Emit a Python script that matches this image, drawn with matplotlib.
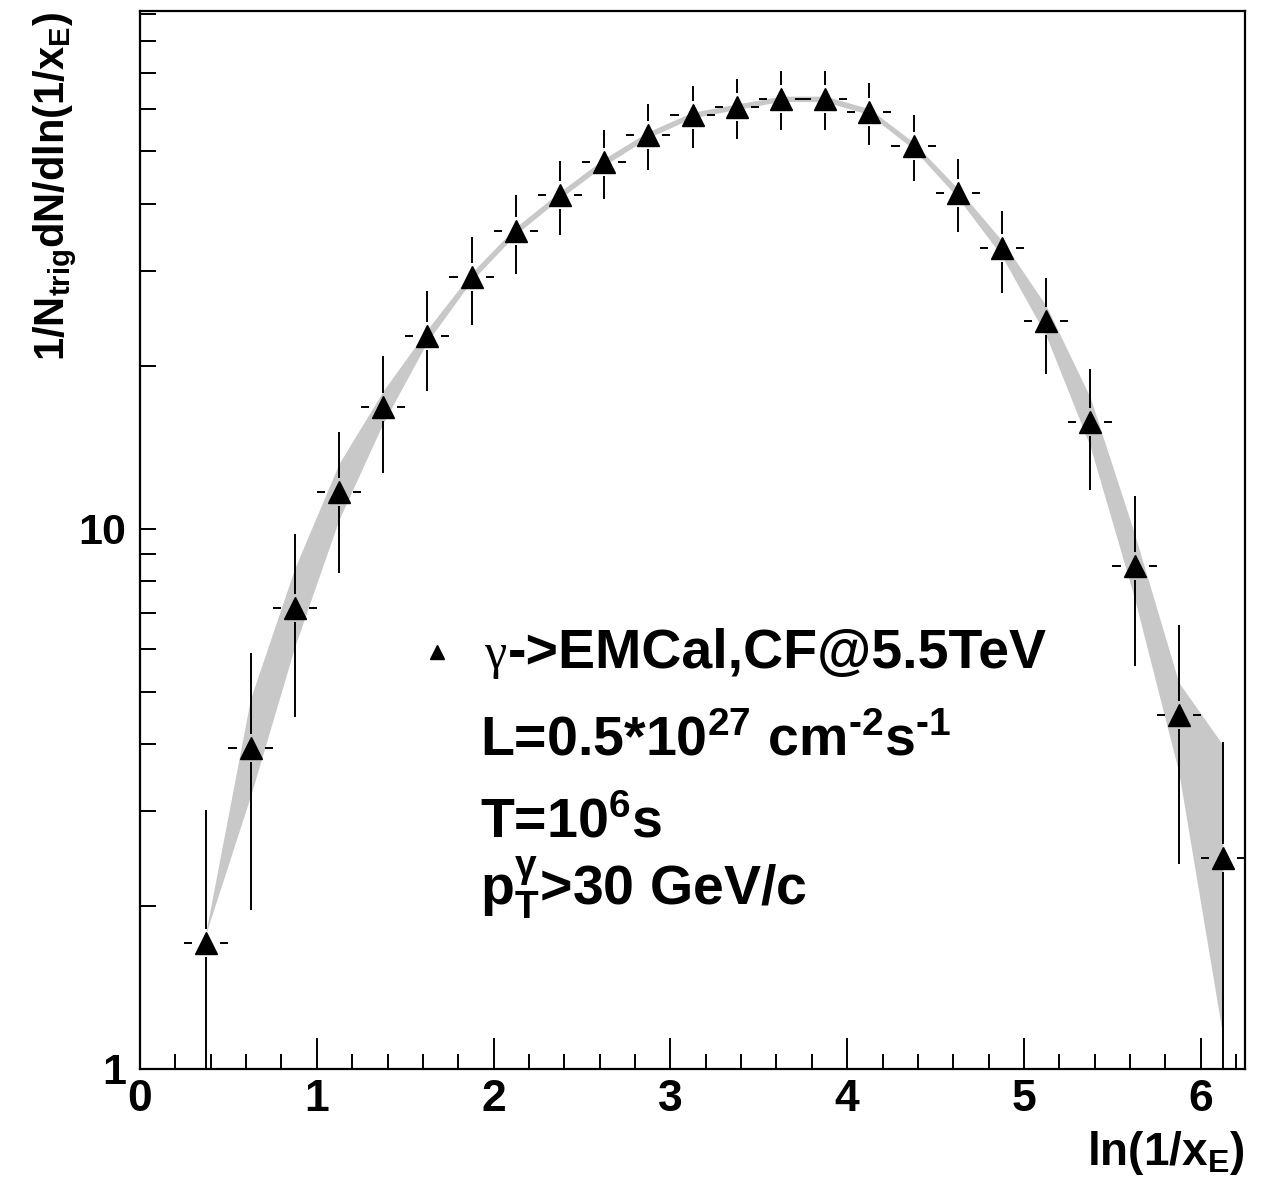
import numpy as np
import matplotlib
matplotlib.use("Agg")
import matplotlib.pyplot as plt
from matplotlib.lines import Line2D
from matplotlib.collections import LineCollection
from matplotlib.ticker import FixedLocator, NullFormatter, FixedFormatter

plt.rcParams['font.family'] = ['Liberation Sans', 'DejaVu Sans']
plt.rcParams['font.weight'] = 'bold'
plt.rcParams['mathtext.fontset'] = 'custom'
plt.rcParams['mathtext.rm'] = 'Liberation Sans:bold'
plt.rcParams['mathtext.it'] = 'Liberation Sans:bold'
plt.rcParams['mathtext.bf'] = 'Liberation Sans:bold'
plt.rcParams['mathtext.default'] = 'rm'

# ln(1/x_E) bin centres (bin width 0.25)
ln_xe = [0.375, 0.625, 0.875, 1.125, 1.375, 1.625, 1.875, 2.125, 2.375, 2.625,
         2.875, 3.125, 3.375, 3.625, 3.875, 4.125, 4.375, 4.625, 4.875, 5.125,
         5.375, 5.625, 5.875, 6.125]
bin_half_width = 0.125

# 1/N_trig dN/dln(1/x_E) and its statistical error
yield_val = [1.71, 3.93, 7.14, 11.7, 16.8, 22.8, 29.3, 35.6, 41.5, 47.8,
             53.7, 58.4, 60.5, 62.6, 62.6, 59.2, 51.2, 41.9, 33.1, 24.3,
             15.8, 8.54, 4.52, 2.46]
yield_err = [1.31, 1.96, 2.65, 3.40, 4.10, 4.80, 5.45, 6.00, 6.45, 7.00,
             7.50, 7.65, 7.70, 7.80, 7.85, 7.75, 7.15, 6.45, 5.70, 4.90,
             4.00, 2.96, 2.12, 1.57]

# Fit uncertainty band (lower / upper edge at each bin centre)
band_lo = [1.79, 3.20, 6.05, 10.4, 15.7, 22.2, 28.8, 35.1, 40.9, 47.1,
           53.0, 57.7, 59.8, 61.9, 61.8, 58.5, 50.5, 41.1, 32.0, 22.8,
           14.2, 7.44, 3.55, 1.15]
band_hi = [1.81, 4.85, 8.45, 13.2, 18.0, 23.4, 29.8, 36.2, 42.1, 48.5,
           54.4, 59.1, 61.2, 63.3, 63.3, 60.0, 52.0, 42.7, 34.2, 25.9,
           17.5, 9.80, 5.20, 3.98]

x_major = [0, 1, 2, 3, 4, 5, 6]
y_major = [1, 10]
y_major_labels = ['1', '10']

W, H = 1268, 1193
fig = plt.figure(figsize=(W / 100, H / 100), dpi=100)
ax = fig.add_axes([140 / W, 1 - 1069 / H, (1245 - 140) / W, (1069 - 11) / H])
ax.set_yscale('log')
ax.set_xlim(0, 6.25)
ax.set_ylim(1, 91)

x = np.array(ln_xe)
y = np.array(yield_val)
e = np.array(yield_err)

ax.fill_between(x, band_lo, band_hi, color='#c8c8c8', lw=0, zorder=1)

# error bars with a small gap around each marker
gap = 14.0  # pixels
to_disp = ax.transData
to_data = ax.transData.inverted()
segs = []
for xi, yi, ei in zip(x, y, e):
    cx, cy = to_disp.transform((xi, yi))
    lo_val = max(yi - ei, 0.3)
    _, ty = to_disp.transform((xi, yi + ei))
    _, by = to_disp.transform((xi, lo_val))
    lx, _ = to_disp.transform((xi - bin_half_width, yi))
    rx, _ = to_disp.transform((xi + bin_half_width, yi))
    for p0, p1 in [((cx, cy + gap), (cx, ty)), ((cx, cy - gap), (cx, by)),
                   ((lx, cy), (cx - gap, cy)), ((cx + gap, cy), (rx, cy))]:
        segs.append(to_data.transform([p0, p1]))
ax.add_collection(LineCollection(segs, colors='black', linewidths=1.4, zorder=2))
ax.plot(x, y, linestyle='none', marker='^', ms=16, color='black', zorder=3)

# axes styling
for sp in ax.spines.values():
    sp.set_linewidth(1.6)
ax.xaxis.set_major_locator(FixedLocator(x_major))
ax.xaxis.set_minor_locator(FixedLocator(np.arange(0, 6.25, 0.2)))
ax.yaxis.set_major_locator(FixedLocator(y_major))
ax.yaxis.set_major_formatter(FixedFormatter(y_major_labels))
ax.yaxis.set_minor_locator(FixedLocator(list(range(2, 10)) + list(range(20, 100, 10))))
ax.yaxis.set_minor_formatter(NullFormatter())
ax.tick_params(axis='x', which='major', direction='in', length=22, width=1.4,
               top=False, labelsize=32, pad=7)
ax.tick_params(axis='x', which='minor', direction='in', length=11, width=1.4, top=False)
ax.tick_params(axis='y', which='both', direction='in', length=11.5, width=1.4,
               right=False, labelsize=31, pad=10)
for lab in ax.get_xticklabels() + ax.get_yticklabels():
    lab.set_fontweight('bold')

fig.text(1245 / W, 1 - 1165 / H, r'ln(1/x$_{E}$)', ha='right', va='baseline',
         fontsize=33, fontweight='bold')
fig.text(55 / W, 1 - 12 / H, r'1/N$_{trig}$dN/dln(1/x$_{E}$)', rotation=90,
         ha='center', va='top', fontsize=30, fontweight='bold')

# annotation block
fig.add_artist(Line2D([437 / W], [1 - 652 / H], transform=fig.transFigure,
                      marker='^', ms=10, color='black', linestyle='none'))
fig.text(484 / W, 1 - 668 / H, 'γ', ha='left', va='baseline', fontsize=36,
         fontweight='normal', family=['Liberation Serif', 'DejaVu Serif'])
fig.text(508 / W, 1 - 668 / H, '->EMCal,CF@5.5TeV', ha='left', va='baseline',
         fontsize=40, fontweight='bold')
fig.text(480 / W, 1 - 755 / H, 'L=0.5*10$^{27}$ cm$^{\u20102}$s$^{\u20101}$', ha='left',
         va='baseline', fontsize=40, fontweight='bold')
fig.text(480 / W, 1 - 838 / H, r'T=10$^{6}$s', ha='left', va='baseline',
         fontsize=40, fontweight='bold')
fig.text(480 / W, 1 - 905 / H, r'p$_{T}^{\gamma}$>30 GeV/c', ha='left',
         va='baseline', fontsize=40, fontweight='bold')

fig.savefig('out.png', dpi=100)
